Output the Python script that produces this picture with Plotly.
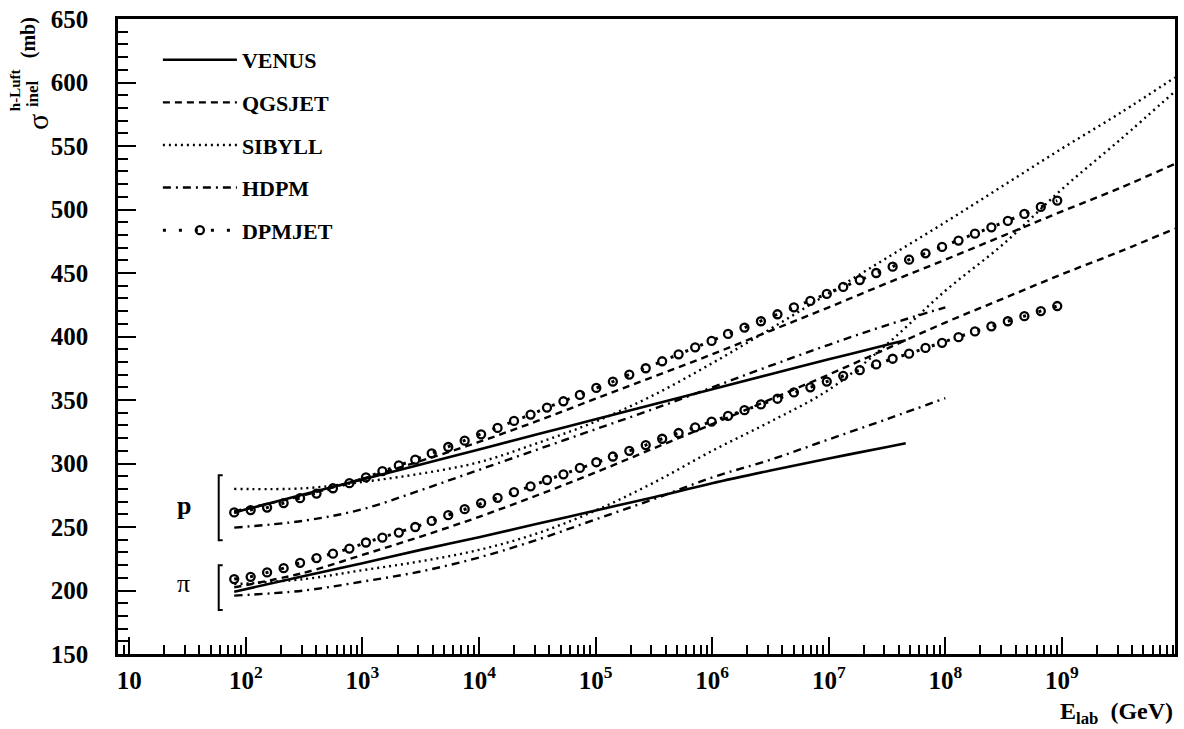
import numpy as np
import plotly.graph_objects as go

# ---------------- data ----------------
# VENUS
venus_log10E = [1.9, 2.5, 3.0, 3.5, 4.0, 4.5, 5.0, 5.5, 6.0, 6.5, 7.0, 7.5, 7.66]
venus_p = [261.5, 275.7, 287.5, 299.3, 311.0, 323.0, 334.8, 346.6, 358.5, 370.3, 382.0, 393.5, 397.0]
venus_pi = [199.0, 211.5, 221.5, 232.0, 242.0, 252.5, 263.0, 273.5, 284.5, 294.5, 304.0, 313.0, 316.0]

# QGSJET
qgs_log10E = [1.9, 2.5, 3.0, 3.5, 4.0, 4.5, 5.0, 5.5, 6.0, 6.5, 7.0, 7.5, 8.0, 8.5, 9.0, 9.5, 9.97]
qgs_p = [262.5, 275.0, 288.0, 302.0, 317.0, 333.5, 351.0, 368.5, 386.0, 404.5, 423.0, 442.0, 460.5, 479.5, 498.5, 517.0, 536.0]
qgs_pi = [202.5, 214.0, 228.0, 242.5, 258.0, 275.0, 293.0, 312.0, 331.0, 350.5, 370.0, 390.5, 411.0, 430.0, 449.0, 467.0, 485.0]

# SIBYLL
sib_log10E = [1.9, 2.5, 3.0, 3.5, 4.0, 4.5, 5.0, 5.5, 6.0, 6.5, 7.0, 7.5, 8.0, 8.5, 9.0, 9.5, 9.97]
sib_p = [280.0, 280.5, 285.5, 292.0, 301.0, 316.0, 333.0, 354.0, 379.0, 406.0, 434.0, 462.0, 490.0, 519.0, 548.0, 576.0, 604.0]
sib_pi = [205.0, 209.0, 216.0, 223.0, 232.0, 245.0, 263.0, 285.0, 310.0, 333.0, 358.0, 394.0, 436.0, 473.0, 516.0, 555.0, 593.0]

# HDPM
hdpm_log10E = [1.9, 2.5, 3.0, 3.5, 4.0, 4.5, 5.0, 5.5, 6.0, 6.5, 7.0, 7.5, 8.0]
hdpm_p = [249.5, 255.0, 264.0, 279.0, 295.0, 311.0, 327.0, 343.0, 360.0, 377.0, 393.5, 409.0, 423.0]
hdpm_pi = [196.0, 200.0, 207.0, 215.0, 226.0, 240.0, 256.0, 272.0, 289.0, 303.0, 319.0, 335.0, 351.5]

# DPMJET (one value per plotted circle)
dpm_log10E = [1.900, 2.041, 2.182, 2.324, 2.465, 2.606, 2.747, 2.888, 3.030, 3.171,
              3.312, 3.453, 3.594, 3.736, 3.877, 4.018, 4.159, 4.300, 4.442, 4.583,
              4.724, 4.865, 5.006, 5.148, 5.289, 5.430, 5.571, 5.712, 5.854, 5.995,
              6.136, 6.277, 6.418, 6.560, 6.701, 6.842, 6.983, 7.124, 7.266, 7.407,
              7.548, 7.689, 7.830, 7.972, 8.113, 8.254, 8.395, 8.536, 8.678, 8.819, 8.960]
dpm_p = [261.5, 263.3, 265.3, 268.8, 272.7, 276.3, 280.5, 284.5, 289.0, 294.0,
         298.5, 303.0, 308.0, 313.0, 318.0, 323.0, 328.0, 333.5, 338.5, 344.0,
         349.0, 354.0, 359.5, 364.5, 370.0, 375.0, 380.5, 386.0, 391.5, 396.5,
         402.0, 407.0, 412.0, 417.5, 423.0, 428.0, 433.5, 439.0, 444.5, 450.0,
         455.0, 460.5, 465.5, 470.5, 475.5, 481.0, 486.0, 491.0, 496.5, 502.0, 507.0]
dpm_pi = [209.0, 210.8, 214.2, 217.6, 221.8, 225.5, 229.0, 233.0, 237.8, 241.7,
          245.6, 250.0, 254.8, 259.3, 264.0, 268.8, 273.0, 277.5, 282.0, 287.0,
          291.5, 296.5, 301.0, 305.5, 310.0, 314.5, 319.5, 324.0, 328.5, 333.0,
          337.5, 342.0, 346.5, 351.0, 356.0, 360.0, 364.5, 369.0, 373.5, 378.0,
          382.5, 386.5, 391.0, 395.0, 399.5, 404.0, 408.0, 412.0, 416.0, 420.0, 424.0]

x_tickvals = [1e1, 1e2, 1e3, 1e4, 1e5, 1e6, 1e7, 1e8, 1e9]
x_ticktext = ["10", "10<sup>2</sup>", "10<sup>3</sup>", "10<sup>4</sup>", "10<sup>5</sup>",
              "10<sup>6</sup>", "10<sup>7</sup>", "10<sup>8</sup>", "10<sup>9</sup>"]
y_tickvals = [150, 200, 250, 300, 350, 400, 450, 500, 550, 600, 650]
y_ticktext = ["150", "200", "250", "300", "350", "400", "450", "500", "550", "600", "650"]

# ---------------- figure ----------------
FONT = "Liberation Serif"
W, H = 1184, 729
ML, MR, MT, MB = 118, 6, 18, 75
PW, PH = W - ML - MR, H - MT - MB


def px_x(px):
    return (px - ML) / PW


def px_y(py):
    return (H - MB - py) / PH


fig = go.Figure()


def add_line(name, logs, ys, dash, show, width=2.4):
    fig.add_trace(go.Scatter(
        x=10 ** np.array(logs), y=ys, mode="lines", name=name,
        legendgroup=name, showlegend=show,
        line=dict(color="black", width=width, dash=dash, shape="spline"),
        hoverinfo="skip"))


add_line("VENUS", venus_log10E, venus_p, "solid", True, 2.6)
add_line("VENUS", venus_log10E, venus_pi, "solid", False, 2.6)
add_line("QGSJET", qgs_log10E, qgs_p, "7px,5px", True)
add_line("QGSJET", qgs_log10E, qgs_pi, "7px,5px", False)
add_line("SIBYLL", sib_log10E, sib_p, "2px,4px", True)
add_line("SIBYLL", sib_log10E, sib_pi, "2px,4px", False)
add_line("HDPM", hdpm_log10E, hdpm_p, "8px,5px,2px,5px", True)
add_line("HDPM", hdpm_log10E, hdpm_pi, "8px,5px,2px,5px", False)

for ys, show in ((dpm_p, True), (dpm_pi, False)):
    fig.add_trace(go.Scatter(
        x=10 ** np.array(dpm_log10E), y=ys, mode="lines+markers", name="DPMJET",
        legendgroup="DPMJET", showlegend=show,
        line=dict(color="black", width=3, dash="3px,13px"),
        marker=dict(symbol="circle-open", size=8, color="black", line=dict(width=2.3, color="black")),
        hoverinfo="skip"))

axis_common = dict(showline=True, linecolor="black", linewidth=2.5, mirror=True,
                   showgrid=False, zeroline=False, ticks="inside", tickcolor="black",
                   tickwidth=2, tickmode="array",
                   tickfont=dict(family=FONT, size=25, color="black"))

fig.update_xaxes(type="log", range=[np.log10(8), 9.97],
                 tickvals=x_tickvals, ticktext=[f"<b>{t}</b>" for t in x_ticktext],
                 ticklen=17, ticklabelstandoff=2,
                 minor=dict(ticks="inside", ticklen=9, tickwidth=2, tickcolor="black",
                            dtick="D1", showgrid=False),
                 **axis_common)
fig.update_yaxes(range=[150, 650], tickvals=y_tickvals,
                 ticktext=[f"<b>{t}</b>" for t in y_ticktext], ticklen=18,
                 ticklabelstandoff=22,
                 minor=dict(ticks="inside", ticklen=10, tickwidth=2, tickcolor="black",
                            tickmode="linear", tick0=150, dtick=10, showgrid=False),
                 **axis_common)

annotations = [
    # y-axis title pieces
    dict(text="σ", x=px_x(38), y=px_y(121), textangle=-90,
         font=dict(family=FONT, size=30, color="black")),
    dict(text="<b>h-Luft</b>", x=px_x(15), y=px_y(89), textangle=-90,
         font=dict(family=FONT, size=15, color="black")),
    dict(text="<b>inel</b>", x=px_x(33), y=px_y(93), textangle=-90,
         font=dict(family=FONT, size=17, color="black")),
    dict(text="<b>(mb)</b>", x=px_x(29), y=px_y(37), textangle=-90,
         font=dict(family=FONT, size=20, color="black")),
    # x-axis title
    dict(text="<b>E<sub>lab</sub>&nbsp;&nbsp;(GeV)</b>", x=1.0, y=px_y(713),
         xanchor="right", font=dict(family=FONT, size=24, color="black")),
    # p / pi labels
    dict(text="<b>p</b>", x=px_x(184), y=px_y(505),
         font=dict(family=FONT, size=26, color="black")),
    dict(text="π", x=px_x(184), y=px_y(583),
         font=dict(family=FONT, size=26, color="black")),
]
for a in annotations:
    a.update(xref="paper", yref="paper", showarrow=False)
    a.setdefault("xanchor", "center")
    a.setdefault("yanchor", "middle")

shapes = []
for top, bot in ((475, 540), (565, 610)):
    x0, s = px_x(219), 4 / PW
    y0, y1 = px_y(top), px_y(bot)
    shapes.append(dict(type="path", xref="paper", yref="paper",
                       path=f"M {x0 + s} {y0} L {x0} {y0} L {x0} {y1} L {x0 + s} {y1}",
                       line=dict(color="black", width=2)))

fig.update_layout(
    width=W, height=H,
    margin=dict(l=ML, r=MR, t=MT, b=MB),
    paper_bgcolor="white", plot_bgcolor="white",
    font=dict(family=FONT, color="black"),
    showlegend=True,
    legend=dict(x=px_x(158), y=px_y(38), xanchor="left", yanchor="top",
                font=dict(family=FONT, size=22, color="black", weight="bold"),
                bgcolor="rgba(0,0,0,0)", tracegroupgap=11, itemwidth=74,
                traceorder="grouped"),
    annotations=annotations,
    shapes=shapes,
)

fig.write_html("out.html")
